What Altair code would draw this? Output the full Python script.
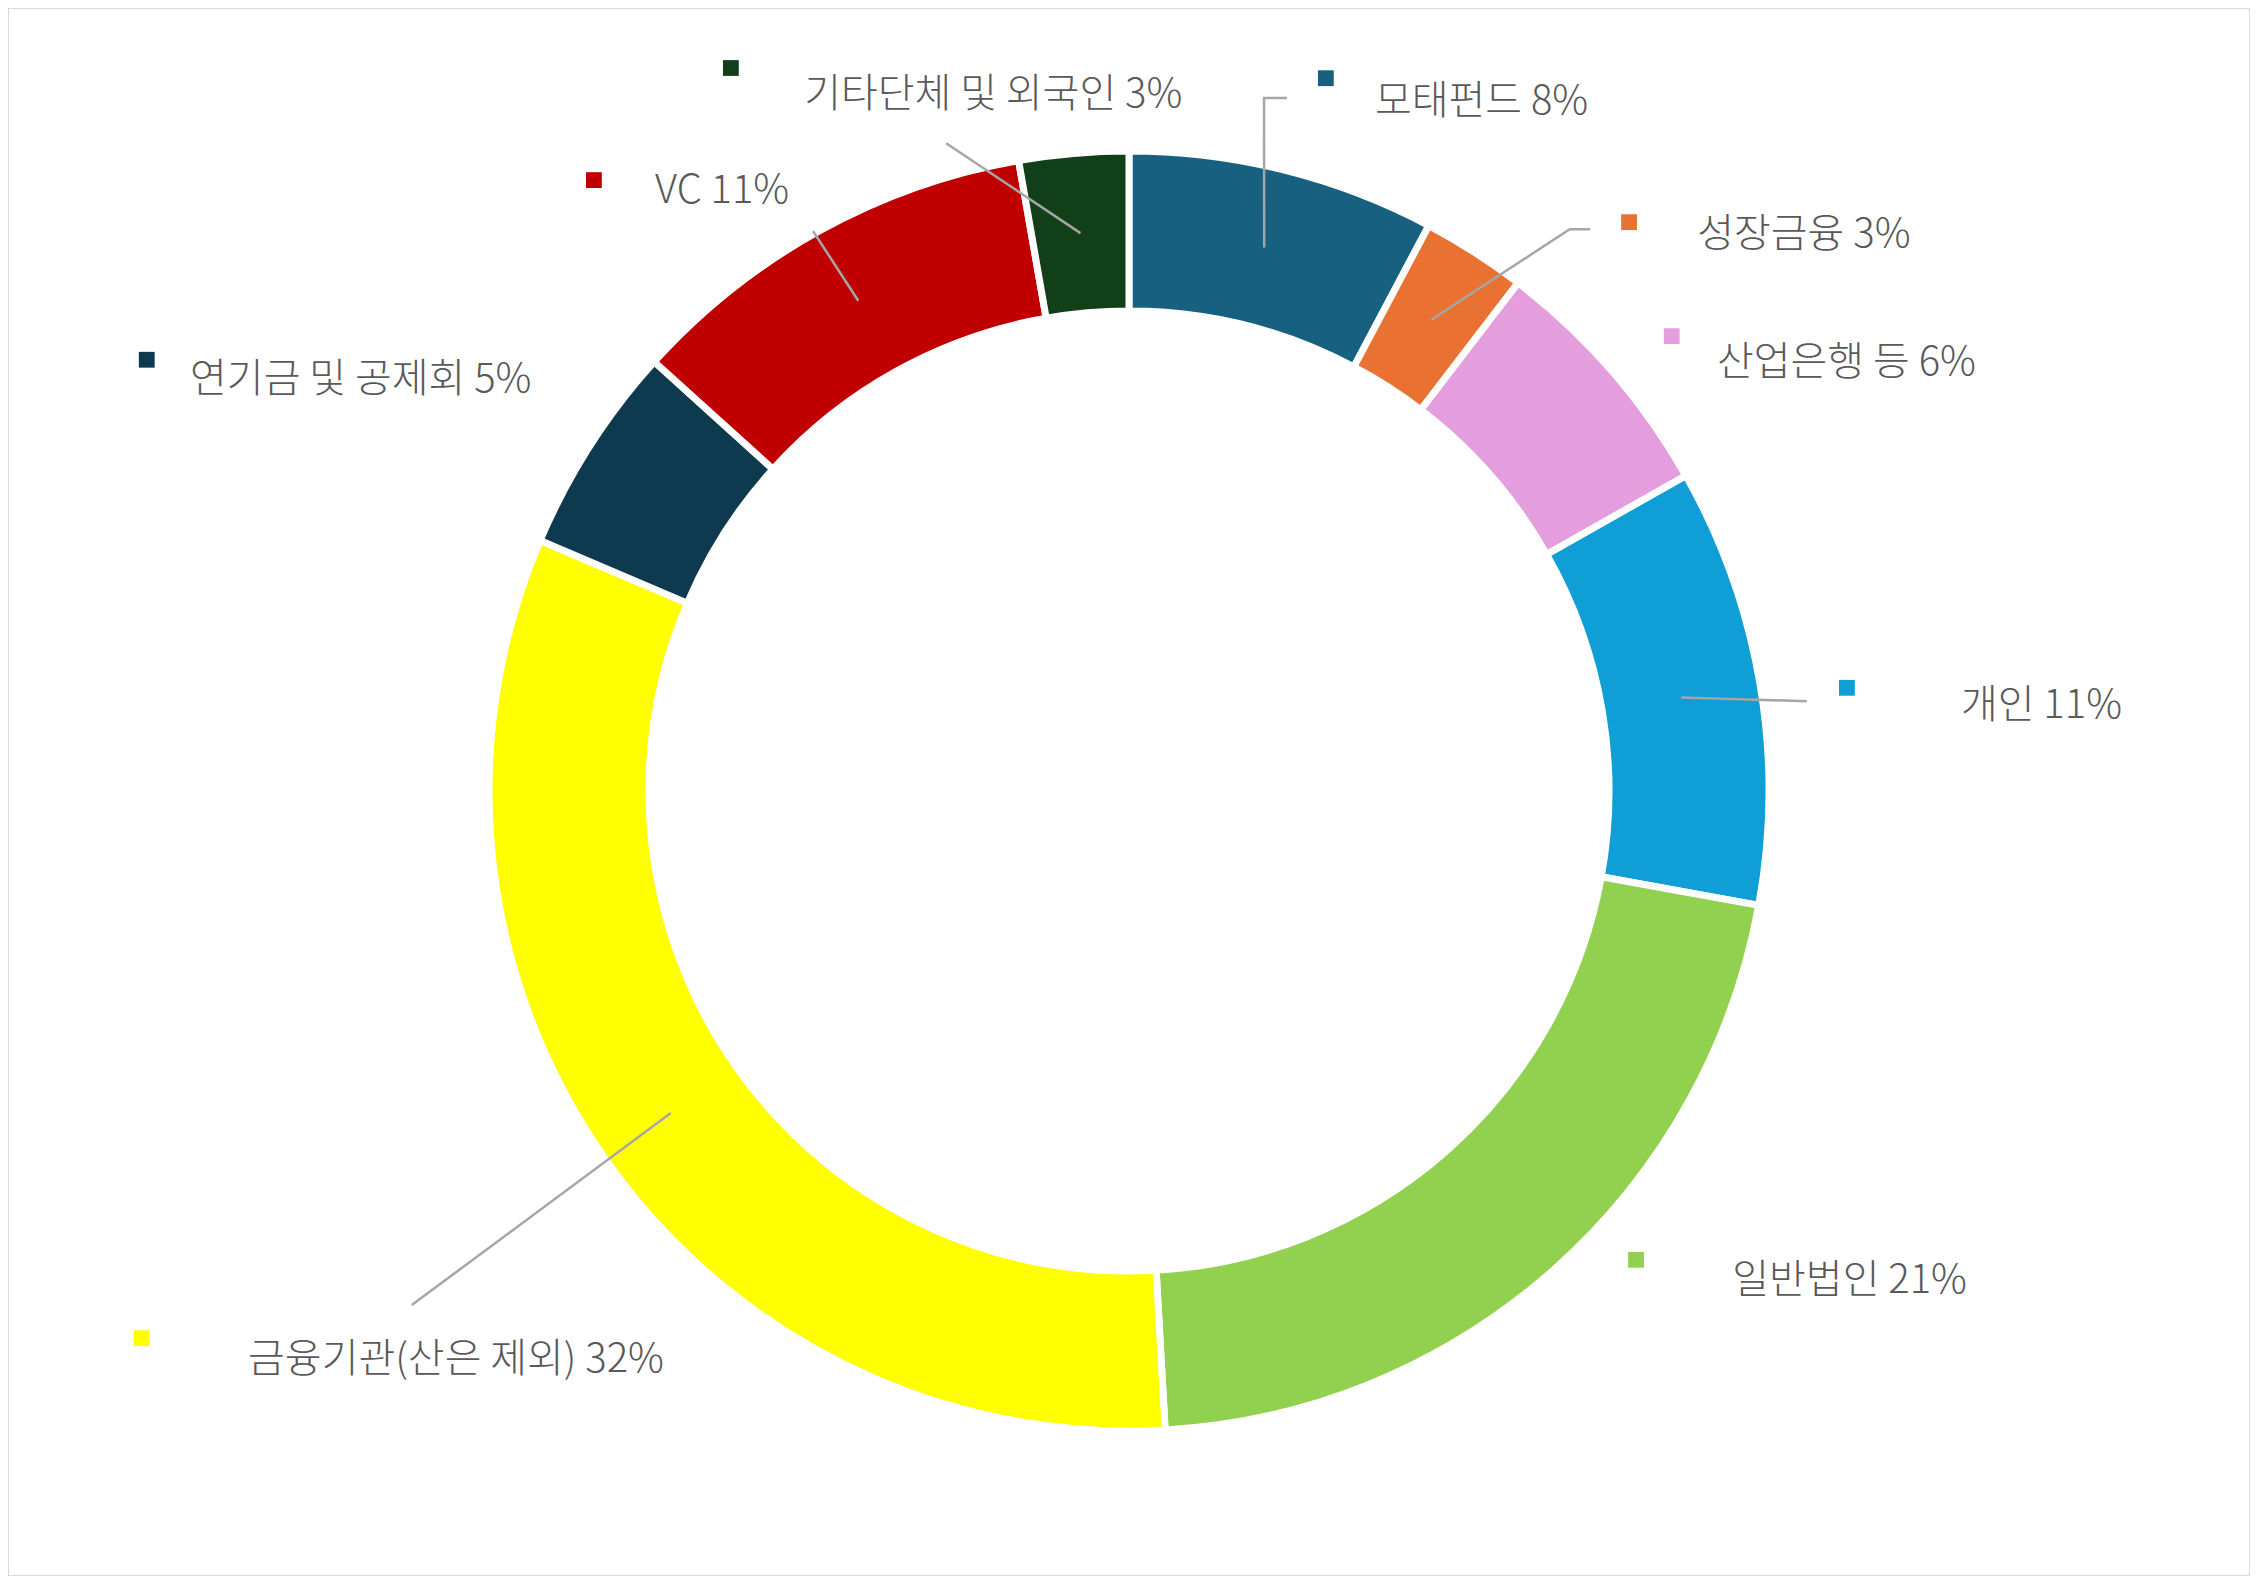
import math
import altair as alt
import pandas as pd

# ---------------- data ----------------
names = ["모태펀드", "성장금융", "산업은행 등", "개인", "일반법인",
         "금융기관(산은 제외)", "연기금 및 공제회", "VC", "기타단체 및 외국인"]
values = [7.76, 2.64, 6.40, 11.06, 21.24, 32.30, 5.30, 10.54, 2.76]
colors = ["#17607F", "#E97132", "#E49EDD", "#0F9ED5", "#92D050",
          "#FFFF00", "#0E3A4F", "#C00000", "#113F18"]

# ---------------- label layout (in units of the ring's outer radius, relative to centre) ----------------
text_anchor = {
    "기타단체 및 외국인": (-0.510, -1.074),
    "모태펀드": (0.386, -1.063),
    "성장금융": (0.892, -0.854),
    "산업은행 등": (0.923, -0.653),
    "개인": (1.306, -0.115),
    "일반법인": (0.947, 0.788),
    "금융기관(산은 제외)": (-1.383, 0.912),
    "연기금 및 공제회": (-1.474, -0.626),
    "VC": (-0.744, -0.923),
}
key_anchor = {
    "기타단체 및 외국인": (-0.625, -1.135),
    "모태펀드": (0.309, -1.119),
    "성장금융": (0.785, -0.893),
    "산업은행 등": (0.852, -0.714),
    "개인": (1.127, -0.162),
    "일반법인": (0.796, 0.736),
    "금융기관(산은 제외)": (-1.550, 0.859),
    "연기금 및 공제회": (-1.542, -0.677),
    "VC": (-0.840, -0.959),
}
leader_tail = {
    "기타단체 및 외국인": [(-0.287, -1.017)],
    "모태펀드": [(0.212, -1.088), (0.248, -1.088)],
    "성장금융": [(0.692, -0.882), (0.724, -0.882)],
    "개인": [(1.064, -0.141)],
    "금융기관(산은 제외)": [(-1.126, 0.807)],
    "VC": [(-0.496, -0.879)],
}

# ---------------- geometry ----------------
W, H = 2242, 1568
CX, CY = 1121, 783          # ring centre inside the chart
R_OUT, R_IN = 640, 480      # arc radii (white stroke trims 3.5px on each side)
R_UNIT = 637.0
R_MID = 560.0 / R_UNIT

xs = alt.Scale(domain=[-CX / R_UNIT, (W - CX) / R_UNIT], nice=False, zero=False)
ys = alt.Scale(domain=[-CY / R_UNIT, (H - CY) / R_UNIT], nice=False, zero=False, reverse=True)
cscale = alt.Scale(domain=names, range=colors)

total = sum(values)
rows, text_rows, line_rows = [], [], []
cum = 0.0
for i, (n, v) in enumerate(zip(names, values)):
    rows.append({"name": n, "value": v, "idx": i})
    mid = (cum + v / 2) / total * 2 * math.pi
    cum += v
    tx, ty = text_anchor[n]
    kx, ky = key_anchor[n]
    text_rows.append({"name": n, "label": f"{n} {round(v)}%", "tx": tx, "ty": ty, "kx": kx, "ky": ky})
    if n in leader_tail:
        pts = [(R_MID * math.sin(mid), -R_MID * math.cos(mid))] + leader_tail[n]
        for j, (px, py) in enumerate(pts):
            line_rows.append({"name": n, "pt": j, "lx": px, "ly": py})

df = pd.DataFrame(rows)
tdf = pd.DataFrame(text_rows)
ldf = pd.DataFrame(line_rows)

ring = alt.Chart(df).mark_arc(
    radius=R_OUT, radius2=R_IN, stroke="white", strokeWidth=7
).encode(
    theta=alt.Theta("value:Q", stack=True),
    order=alt.Order("idx:Q"),
    color=alt.Color("name:N", scale=cscale, legend=None),
    x=alt.value(CX),
    y=alt.value(CY),
)

leaders = alt.Chart(ldf).mark_line(color="#A6A6A6", strokeWidth=2.5).encode(
    x=alt.X("lx:Q", scale=xs, axis=None),
    y=alt.Y("ly:Q", scale=ys, axis=None),
    detail="name:N",
    order="pt:Q",
)

keys = alt.Chart(tdf).mark_square(size=250, opacity=1, filled=True).encode(
    x=alt.X("kx:Q", scale=xs, axis=None),
    y=alt.Y("ky:Q", scale=ys, axis=None),
    color=alt.Color("name:N", scale=cscale, legend=None),
)

labels = alt.Chart(tdf).mark_text(
    align="left", baseline="alphabetic", font="Noto Sans CJK KR",
    fontSize=40, fontWeight=300, color="#595959"
).encode(
    x=alt.X("tx:Q", scale=xs, axis=None),
    y=alt.Y("ty:Q", scale=ys, axis=None),
    text="label:N",
)

chart = alt.layer(ring, leaders, keys, labels).properties(
    width=W, height=H, padding=0,
    autosize=alt.AutoSizeParams(type="none"),
    background="white",
).configure_view(stroke="#D9D9D9", strokeWidth=2)

chart.save("out.html", embed_options={"renderer": "svg", "actions": False})
